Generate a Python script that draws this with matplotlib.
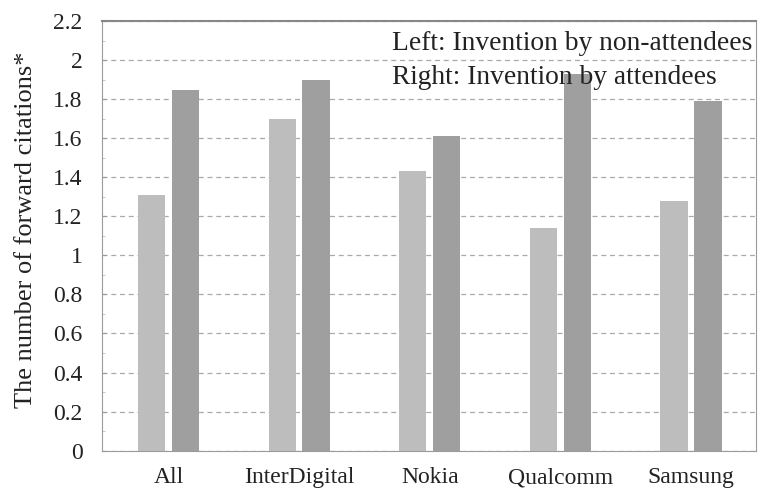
import matplotlib.pyplot as plt
import numpy as np

categories = ["All", "InterDigital", "Nokia", "Qualcomm", "Samsung"]
non_attendees = [1.31, 1.70, 1.43, 1.14, 1.28]
attendees = [1.85, 1.90, 1.61, 1.93, 1.79]
y_ticks = [0, 0.2, 0.4, 0.6, 0.8, 1, 1.2, 1.4, 1.6, 1.8, 2, 2.2]
y_tick_labels = ["0", "0.2", "0.4", "0.6", "0.8", "1", "1.2", "1.4", "1.6", "1.8", "2", "2.2"]

plt.rcParams['font.family'] = ['Liberation Serif', 'DejaVu Serif']

fig = plt.figure(figsize=(7.58, 4.93), dpi=100)
ax = fig.add_axes([0.1346, 0.086, 0.863, 0.871])

x = np.arange(len(categories))
w = 0.21
ax.bar(x - 0.13, non_attendees, w, color="#bdbdbd", zorder=3)
ax.bar(x + 0.13, attendees, w, color="#9f9f9f", zorder=3)

ax.set_xlim(-0.51, 4.5)
ax.set_ylim(0, 2.2)
ax.set_yticks(y_ticks)
ax.set_yticklabels(y_tick_labels)
ax.set_yticks(np.arange(0.1, 2.2, 0.2), minor=True)
ax.set_xticks(x)
ax.set_xticklabels(categories)
ax.tick_params(axis="both", labelsize=17, colors="#222222")
ax.tick_params(axis="y", direction="in", length=3, color="#999999", pad=14)
ax.tick_params(axis="y", which="minor", direction="in", length=2, color="#bbbbbb")
ax.tick_params(axis="x", length=0, pad=12)
ax.yaxis.grid(True, linestyle=(0, (4, 3)), color="#aaaaaa", linewidth=0.9, zorder=0)

for side in ["left", "bottom", "right"]:
    ax.spines[side].set_color("#9a9a9a")
ax.spines["top"].set_color("#888888")
ax.spines["top"].set_linewidth(1.5)

ax.set_ylabel("The number of forward citations*", fontsize=19, color="#222222")
ax.yaxis.set_label_coords(-0.1, 0.515)

ax.text(0.444, 0.948, "Left: Invention by non-attendees", transform=ax.transAxes,
        fontsize=19.8, color="#222222", va="center", ha="left", zorder=4)
ax.text(0.444, 0.870, "Right: Invention by attendees", transform=ax.transAxes,
        fontsize=19.8, color="#222222", va="center", ha="left", zorder=4)

fig.savefig("out.png", dpi=100)
